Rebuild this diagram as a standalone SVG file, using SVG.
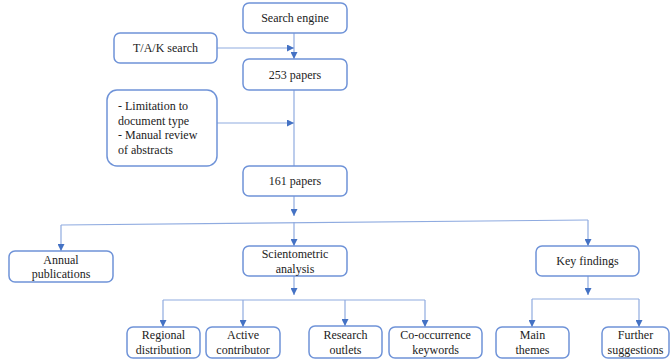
<svg xmlns="http://www.w3.org/2000/svg" width="672" height="364" viewBox="0 0 672 364">
<defs>
<marker id="ah" viewBox="0 0 10 10" refX="10" refY="5" markerWidth="7" markerHeight="7" orient="auto" markerUnits="userSpaceOnUse">
<path d="M0,0 L10,5 L0,10 Z" fill="#4472C4"/>
</marker>
<style>
.box{fill:#fff;stroke:#6f93d8;stroke-width:1.5}
text{font-family:"Times New Roman","Liberation Serif","DejaVu Serif",serif;font-size:12px;fill:#222}
.t{text-anchor:middle}
.c{fill:none;stroke:#8fabe0;stroke-width:1.2}
.a{fill:none;stroke:#8fabe0;stroke-width:1.2;marker-end:url(#ah)}
</style>
</defs>
<rect width="672" height="364" fill="#fff"/>
<g id="connectors">
<path class="a" d="M294,33 V59"/>
<path class="a" d="M217,48 H294"/>
<path class="c" d="M294,90 V166"/>
<path class="a" d="M217,123 H294"/>
<path class="a" d="M294,196 V216"/>
<path class="c" d="M61,225 L588,220"/>
<path class="a" d="M61,225 V251"/>
<path class="a" d="M294,222 V246"/>
<path class="a" d="M588,220 V246"/>
<path class="a" d="M294,276 V295"/>
<path class="c" d="M163,300 H425"/>
<path class="a" d="M163,300 V327"/>
<path class="a" d="M243,300 V327"/>
<path class="a" d="M345,300 V326"/>
<path class="a" d="M425,300 V327"/>
<path class="a" d="M588,276 V295"/>
<path class="c" d="M532,299 H639"/>
<path class="a" d="M532,299 V327"/>
<path class="a" d="M639,299 V327"/>
</g>
<g id="search-engine"><rect class="box" x="243" y="3" width="104" height="30" rx="6"/><text class="t" x="295" y="22">Search engine</text></g>
<g id="tak-search"><rect class="box" x="114" y="33" width="103" height="30" rx="6"/><text class="t" x="165.500" y="52">T/A/K search</text></g>
<g id="papers-253"><rect class="box" x="243" y="59" width="104" height="31" rx="6"/><text class="t" x="295" y="79">253 papers</text></g>
<g id="limitation"><rect class="box" x="107" y="90" width="110" height="76" rx="10"/>
<text x="118" y="110">- Limitation to</text>
<text x="118" y="124.500">document type</text>
<text x="118" y="139">- Manual review</text>
<text x="118" y="153.500">of abstracts</text></g>
<g id="papers-161"><rect class="box" x="243" y="166" width="104" height="30" rx="6"/><text class="t" x="295" y="185">161 papers</text></g>
<g id="annual"><rect class="box" x="9" y="251" width="104" height="31" rx="6"/><text class="t" x="61" y="263.500">Annual</text><text class="t" x="61" y="278">publications</text></g>
<g id="scientometric"><rect class="box" x="243" y="246" width="104" height="30" rx="6"/><text class="t" x="295" y="258">Scientometric</text><text class="t" x="295" y="273">analysis</text></g>
<g id="key-findings"><rect class="box" x="536" y="246" width="103" height="30" rx="6"/><text class="t" x="587.500" y="265">Key findings</text></g>
<g id="regional"><rect class="box" x="127" y="327" width="73" height="31" rx="6"/><text class="t" x="163.500" y="339">Regional</text><text class="t" x="163.500" y="354">distribution</text></g>
<g id="active"><rect class="box" x="206" y="327" width="74" height="31" rx="6"/><text class="t" x="243" y="339">Active</text><text class="t" x="243" y="354">contributor</text></g>
<g id="research"><rect class="box" x="309" y="326" width="73" height="32" rx="6"/><text class="t" x="345.500" y="339">Research</text><text class="t" x="345.500" y="354">outlets</text></g>
<g id="cooccurrence"><rect class="box" x="389" y="327" width="93" height="31" rx="6"/><text class="t" x="435.500" y="339">Co-occurrence</text><text class="t" x="435.500" y="354">keywords</text></g>
<g id="main-themes"><rect class="box" x="496" y="327" width="73" height="31" rx="6"/><text class="t" x="532.500" y="339">Main</text><text class="t" x="532.500" y="354">themes</text></g>
<g id="further"><rect class="box" x="602" y="327" width="67" height="31" rx="6"/><text class="t" x="635.500" y="339">Further</text><text class="t" x="635.500" y="354">suggestions</text></g>
</svg>
